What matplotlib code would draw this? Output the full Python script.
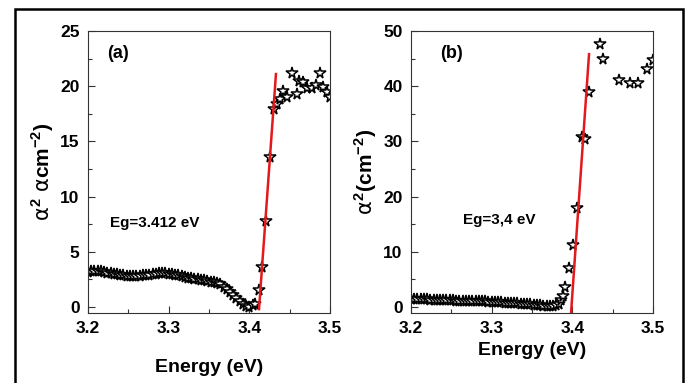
import matplotlib.pyplot as plt
from matplotlib.patches import Rectangle
from matplotlib.ticker import MultipleLocator

# panel (a): dense low-energy part and sparse edge/plateau part
a_x_low = [3.200, 3.204, 3.208, 3.212, 3.216, 3.220, 3.224, 3.228, 3.232, 3.236,
           3.240, 3.244, 3.248, 3.252, 3.256, 3.260, 3.264, 3.268, 3.272, 3.276,
           3.280, 3.284, 3.288, 3.292, 3.296, 3.300, 3.304, 3.308, 3.312, 3.316,
           3.320, 3.324, 3.328, 3.332, 3.336, 3.340, 3.344, 3.348, 3.352, 3.356,
           3.360, 3.364, 3.368, 3.372, 3.376, 3.380, 3.384, 3.388, 3.392, 3.396,
           3.400, 3.404, 3.407]
a_y_low = [3.2, 3.25, 3.3, 3.3, 3.25, 3.2, 3.1, 3.05, 3.0, 2.95,
           2.9, 2.85, 2.8, 2.8, 2.8, 2.8, 2.8, 2.85, 2.85, 2.9,
           2.95, 3.0, 3.05, 3.05, 3.05, 3.0, 2.95, 2.9, 2.85, 2.8,
           2.7, 2.65, 2.6, 2.55, 2.5, 2.45, 2.4, 2.35, 2.3, 2.25,
           2.15, 2.05, 1.85, 1.6, 1.35, 1.1, 0.8, 0.5, 0.25, 0.05,
           0.0, 0.2, 0.25]
a_x_edge = [3.412, 3.4153, 3.4207, 3.4256, 3.4306, 3.434, 3.4376, 3.4422, 3.4463,
            3.4525, 3.4587, 3.462, 3.467, 3.4711, 3.4773, 3.4826, 3.4876, 3.4917,
            3.4967, 3.500]
a_y_edge = [1.54, 3.65, 7.8, 13.6, 17.9, 18.4, 18.8, 19.6, 19.0,
            21.2, 19.3, 20.5, 20.4, 19.8, 19.8, 20.1, 21.2, 19.9,
            19.5, 19.0]
a_fit_x = [3.412, 3.433]
a_fit_y = [-0.2, 21.1]

# panel (b)
b_x_low = [3.200, 3.204, 3.208, 3.212, 3.216, 3.220, 3.224, 3.228, 3.232, 3.236,
           3.240, 3.244, 3.248, 3.252, 3.256, 3.260, 3.264, 3.268, 3.272, 3.276,
           3.280, 3.284, 3.288, 3.292, 3.296, 3.300, 3.304, 3.308, 3.312, 3.316,
           3.320, 3.324, 3.328, 3.332, 3.336, 3.340, 3.344, 3.348, 3.352, 3.356,
           3.360, 3.364, 3.368, 3.372, 3.376]
b_y_low = [1.4, 1.4, 1.35, 1.4, 1.35, 1.35, 1.3, 1.3, 1.3, 1.25,
           1.25, 1.2, 1.2, 1.2, 1.15, 1.15, 1.1, 1.1, 1.1, 1.05,
           1.05, 1.0, 1.0, 1.0, 0.95, 0.95, 0.9, 0.9, 0.85, 0.8,
           0.8, 0.75, 0.7, 0.65, 0.6, 0.55, 0.5, 0.45, 0.4, 0.35,
           0.3, 0.25, 0.15, 0.1, 0.2]
b_x_edge = [3.380, 3.383, 3.386, 3.388, 3.391, 3.396, 3.401, 3.406, 3.4115,
            3.4155, 3.4205, 3.4345, 3.4375, 3.458, 3.472, 3.482, 3.492, 3.4995]
b_y_edge = [0.3, 0.6, 1.2, 1.9, 3.6, 7.0, 11.2, 18.0, 30.8,
            30.5, 39.0, 47.6, 45.0, 41.2, 40.5, 40.5, 43.2, 44.8]
b_fit_x = [3.3984, 3.4207]
b_fit_y = [-1.1, 45.8]

x_ticks = [3.2, 3.3, 3.4, 3.5]
x_tick_labels = ['3.2', '3.3', '3.4', '3.5']

plt.rcParams['font.family'] = ['Liberation Sans', 'DejaVu Sans']
plt.rcParams['mathtext.fontset'] = 'custom'
plt.rcParams['mathtext.rm'] = 'Liberation Sans:bold'
plt.rcParams['mathtext.it'] = 'DejaVu Sans'
plt.rcParams['mathtext.bf'] = 'Liberation Sans:bold'

fig = plt.figure(figsize=(6.93, 3.83), dpi=100)

# outer frame around both panels
fig.patches.append(Rectangle((15 / 693, -0.05), 668 / 693, 1.05 - 9 / 383,
                             transform=fig.transFigure, fill=False,
                             edgecolor='black', linewidth=1.8))

ax_a = fig.add_axes([88 / 693, 70 / 383, 242 / 693, 282 / 383])
ax_b = fig.add_axes([411 / 693, 70 / 383, 242 / 693, 282 / 383])


def style_axis(ax, ylim, y_major, y_minor):
    ax.set_xlim(3.2, 3.5)
    ax.set_ylim(*ylim)
    ax.set_xticks(x_ticks)
    ax.set_xticklabels(x_tick_labels)
    ax.xaxis.set_minor_locator(MultipleLocator(0.05))
    ax.yaxis.set_major_locator(MultipleLocator(y_major))
    ax.yaxis.set_minor_locator(MultipleLocator(y_minor))
    ax.tick_params(which='both', direction='in', top=False, right=False,
                   width=0.8, color='#333333')
    ax.tick_params(which='major', length=5, labelsize=12.5, pad=6)
    ax.tick_params(which='minor', length=3)
    for lab in ax.get_xticklabels() + ax.get_yticklabels():
        lab.set_fontweight('bold')
    for sp in ax.spines.values():
        sp.set_linewidth(0.8)
        sp.set_color('#333333')


star = dict(linestyle='none', marker='*', markersize=8.5, markerfacecolor='white',
            markeredgecolor='black', markeredgewidth=1.1, zorder=2)

# (a)
ax_a.plot(a_x_low, a_y_low, **star)
ax_a.plot(a_x_edge, a_y_edge, **star)
ax_a.plot(a_fit_x, a_fit_y, color='#e3191c', linewidth=1.8, zorder=3)
style_axis(ax_a, (-0.55, 25), 5, 2.5)
ax_a.set_xlabel('Energy (eV)', fontsize=14, fontweight='bold', labelpad=16)
ax_a.set_ylabel(r'$\alpha^{2}$ $\alpha\mathrm{cm}^{-2}$)', fontsize=15,
                fontweight='bold', labelpad=3)
ax_a.text(0.08, 0.92, '(a)', transform=ax_a.transAxes, fontsize=13,
          fontweight='bold', va='center')
ax_a.text(0.09, 0.32, 'Eg=3.412 eV', transform=ax_a.transAxes, fontsize=11,
          fontweight='bold', va='center')

# (b)
ax_b.plot(b_x_low, b_y_low, **star)
ax_b.plot(b_x_edge, b_y_edge, **star)
ax_b.plot(b_fit_x, b_fit_y, color='#e3191c', linewidth=1.8, zorder=3)
style_axis(ax_b, (-1.1, 50), 10, 5)
ax_b.set_xlabel('Energy (eV)', fontsize=14, fontweight='bold', labelpad=4)
ax_b.set_ylabel(r'$\alpha^{2}$(cm$^{-2}$)', fontsize=15, fontweight='bold',
                labelpad=3)
ax_b.text(0.12, 0.92, '(b)', transform=ax_b.transAxes, fontsize=13,
          fontweight='bold', va='center')
ax_b.text(0.215, 0.33, 'Eg=3,4 eV', transform=ax_b.transAxes, fontsize=11,
          fontweight='bold', va='center')

fig.savefig('out.png', dpi=100)
